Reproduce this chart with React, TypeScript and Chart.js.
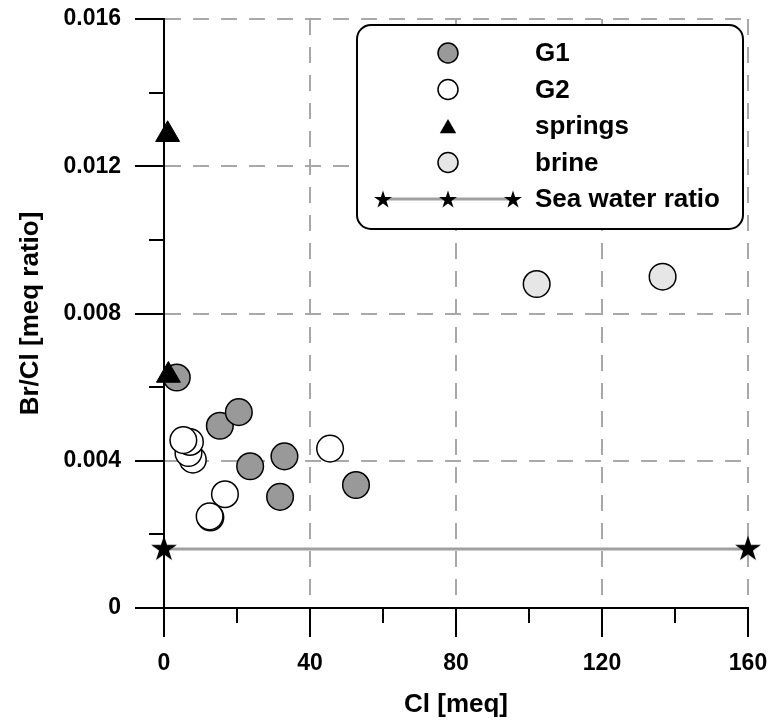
import React, { useEffect, useRef } from 'react';
import { Chart, registerables } from 'chart.js';

Chart.register(...registerables);

// ---- data ----
const g1Cl = [3.5, 15.3, 20.5, 23.6, 33.0, 31.8, 52.6];
const g1BrCl = [0.00626, 0.00495, 0.00532, 0.00385, 0.00412, 0.00302, 0.00334];

const g2Cl = [7.9, 6.7, 7.1, 5.3, 16.7, 12.7, 12.5, 45.5];
const g2BrCl = [0.00403, 0.00421, 0.00451, 0.00456, 0.00309, 0.00246, 0.00249, 0.00433];

const springsCl = [1.0, 1.2];
const springsBrCl = [0.01286, 0.00632];

const brineCl = [102.1, 136.6];
const brineBrCl = [0.0088, 0.009];

const seaCl = [0, 160];
const seaBrCl = [0.0016, 0.0016];

const xTicks = [0, 40, 80, 120, 160];
const xTickLabels = ['0', '40', '80', '120', '160'];
const xMinorTicks = [20, 60, 100, 140];
const yTicks = [0, 0.004, 0.008, 0.012, 0.016];
const yTickLabels = ['0', '0.004', '0.008', '0.012', '0.016'];
const yMinorTicks = [0.002, 0.006, 0.01, 0.014];

const legendLabels = ['G1', 'G2', 'springs', 'brine', 'Sea water ratio'];

const xTitle = 'Cl [meq]';
const yTitle = 'Br/Cl [meq ratio]';

// ---- styles ----
const FONT = "'Liberation Sans', Arial, Helvetica, sans-serif";
const G1_FILL = '#999999';
const G2_FILL = '#ffffff';
const BRINE_FILL = '#e6e6e6';
const GRID = '#a8a8a8';
const SEA_LINE = '#a0a0a0';

function starPath(ctx: CanvasRenderingContext2D, cx: number, cy: number, R: number) {
  const r = R * 0.382;
  ctx.beginPath();
  for (let i = 0; i < 10; i++) {
    const rad = i % 2 === 0 ? R : r;
    const a = -Math.PI / 2 + (i * Math.PI) / 5;
    const x = cx + rad * Math.cos(a);
    const y = cy + rad * Math.sin(a);
    if (i === 0) ctx.moveTo(x, y);
    else ctx.lineTo(x, y);
  }
  ctx.closePath();
}

function makeStar(R: number): HTMLCanvasElement {
  const c = document.createElement('canvas');
  const s = Math.ceil(R * 2 + 2);
  c.width = s;
  c.height = s;
  const ctx = c.getContext('2d')!;
  starPath(ctx, s / 2, s / 2, R);
  ctx.fillStyle = '#000';
  ctx.fill();
  return c;
}

const minorTicksPlugin = {
  id: 'minorTicks',
  beforeDatasetsDraw(chart: any) {
    const { ctx, scales } = chart;
    const xs = scales.x;
    const ys = scales.y;
    const len = 15;
    ctx.save();
    ctx.strokeStyle = '#000';
    ctx.lineWidth = 2;
    ctx.beginPath();
    xMinorTicks.forEach((v) => {
      const px = Math.round(xs.getPixelForValue(v));
      ctx.moveTo(px, ys.bottom);
      ctx.lineTo(px, ys.bottom + len);
    });
    yMinorTicks.forEach((v) => {
      const py = Math.round(ys.getPixelForValue(v));
      ctx.moveTo(xs.left - len, py);
      ctx.lineTo(xs.left, py);
    });
    ctx.stroke();
    ctx.restore();
  },
};

const boxLegendPlugin = {
  id: 'boxLegend',
  afterDraw(chart: any) {
    const { ctx } = chart;
    const bx = 357;
    const by = 25;
    const bw = 386;
    const bh = 204;
    ctx.save();
    ctx.beginPath();
    ctx.roundRect(bx, by, bw, bh, 14);
    ctx.fillStyle = '#fff';
    ctx.fill();
    ctx.lineWidth = 2;
    ctx.strokeStyle = '#000';
    ctx.stroke();

    const mx = 448;
    const tx = 535;
    const rowY = (i: number) => 53 + i * 36.5;

    const circle = (y: number, fill: string) => {
      ctx.beginPath();
      ctx.arc(mx, y, 10, 0, Math.PI * 2);
      ctx.fillStyle = fill;
      ctx.fill();
      ctx.lineWidth = 1.5;
      ctx.strokeStyle = '#000';
      ctx.stroke();
    };
    circle(rowY(0), G1_FILL);
    circle(rowY(1), G2_FILL);
    // triangle
    {
      const r = 9.5;
      const cy = rowY(2) + r * 0.25;
      ctx.beginPath();
      for (let k = 0; k < 3; k++) {
        const a = -Math.PI / 2 + (k * 2 * Math.PI) / 3;
        const x = mx + r * Math.cos(a);
        const y = cy + r * Math.sin(a);
        if (k === 0) ctx.moveTo(x, y);
        else ctx.lineTo(x, y);
      }
      ctx.closePath();
      ctx.fillStyle = '#000';
      ctx.fill();
    }
    circle(rowY(3), BRINE_FILL);
    // sea water line + stars
    {
      const y = rowY(4);
      ctx.beginPath();
      ctx.moveTo(383, y);
      ctx.lineTo(513, y);
      ctx.lineWidth = 3;
      ctx.strokeStyle = SEA_LINE;
      ctx.stroke();
      [383, 448, 513].forEach((sx) => {
        starPath(ctx, sx, y + 0.9, 9.4);
        ctx.fillStyle = '#000';
        ctx.fill();
      });
    }

    ctx.fillStyle = '#000';
    ctx.font = `bold 26px ${FONT}`;
    ctx.textAlign = 'left';
    ctx.textBaseline = 'middle';
    legendLabels.forEach((t, i) => ctx.fillText(t, tx, rowY(i) + 1));
    ctx.restore();
  },
};

const gridColor = (c: any) => (c.tick && c.tick.value === 0 ? 'rgba(0,0,0,0)' : GRID);

const zeroPad = (s: any) => {
  s.paddingTop = 0;
  s.paddingBottom = 0;
  s.paddingLeft = 0;
  s.paddingRight = 0;
};

export default function App() {
  const ref = useRef<HTMLCanvasElement>(null);

  useEffect(() => {
    const canvas = ref.current;
    if (!canvas) return;
    const star = makeStar(13.6);
    const pts = (xs: number[], ys: number[]) => xs.map((x, i) => ({ x, y: ys[i] }));

    const chart = new Chart(canvas, {
      type: 'scatter',
      data: {
        datasets: [
          {
            label: 'springs',
            data: pts(springsCl, springsBrCl),
            pointStyle: 'triangle',
            pointRadius: 13.8,
            pointBackgroundColor: '#000',
            pointBorderColor: '#000',
            pointBorderWidth: 1,
            clip: false,
          },
          {
            label: 'Sea water ratio',
            data: pts(seaCl, seaBrCl),
            showLine: true,
            borderColor: SEA_LINE,
            borderWidth: 3,
            pointStyle: star as any,
            pointRadius: 13.6,
            clip: false,
          },
          {
            label: 'G1',
            data: pts(g1Cl, g1BrCl),
            pointStyle: 'circle',
            pointRadius: 13.3,
            pointBackgroundColor: G1_FILL,
            pointBorderColor: '#000',
            pointBorderWidth: 1.5,
            clip: false,
          },
          {
            label: 'G2',
            data: pts(g2Cl, g2BrCl),
            pointStyle: 'circle',
            pointRadius: 13.3,
            pointBackgroundColor: G2_FILL,
            pointBorderColor: '#000',
            pointBorderWidth: 1.5,
            clip: false,
          },
          {
            label: 'brine',
            data: pts(brineCl, brineBrCl),
            pointStyle: 'circle',
            pointRadius: 13.3,
            pointBackgroundColor: BRINE_FILL,
            pointBorderColor: '#000',
            pointBorderWidth: 1.5,
            clip: false,
          },
        ] as any,
      },
      options: {
        responsive: false,
        animation: false,
        events: [],
        layout: { padding: { left: 0, top: 19, right: 20, bottom: 0 } },
        plugins: {
          legend: { display: false },
          tooltip: { enabled: false },
        },
        scales: {
          x: {
            type: 'linear',
            min: 0,
            max: 160,
            afterFit: (s: any) => {
              s.height = 112;
              zeroPad(s);
            },
            afterBuildTicks: (s: any) => {
              s.ticks = xTicks.map((v) => ({ value: v }));
            },
            ticks: {
              font: { family: FONT, size: 23, weight: 'bold' },
              color: '#000',
              padding: 13,
              maxRotation: 0,
              autoSkip: false,
              callback: (_v: any, i: number) => xTickLabels[i],
            },
            grid: {
              color: gridColor,
              lineWidth: 2,
              tickLength: 29,
              tickColor: '#000',
              tickWidth: 2,
              tickBorderDash: [],
            },
            border: { display: true, color: '#000', width: 2, dash: [16, 12] },
            title: {
              display: true,
              text: xTitle,
              color: '#000',
              font: { family: FONT, size: 26, weight: 'bold' },
              padding: { top: 0, bottom: 0 },
            },
          },
          y: {
            type: 'linear',
            min: 0,
            max: 0.016,
            afterFit: (s: any) => {
              s.width = 164;
              zeroPad(s);
            },
            afterBuildTicks: (s: any) => {
              s.ticks = yTicks.map((v) => ({ value: v }));
            },
            ticks: {
              font: { family: FONT, size: 23, weight: 'bold' },
              color: '#000',
              padding: 14,
              autoSkip: false,
              callback: (_v: any, i: number) => yTickLabels[i],
            },
            grid: {
              color: gridColor,
              lineWidth: 2,
              tickLength: 29,
              tickColor: '#000',
              tickWidth: 2,
              tickBorderDash: [],
            },
            border: { display: true, color: '#000', width: 2, dash: [16, 12] },
            title: {
              display: true,
              text: yTitle,
              color: '#000',
              font: { family: FONT, size: 26, weight: 'bold' },
              padding: { top: 15, bottom: 0 },
            },
          },
        },
      } as any,
      plugins: [minorTicksPlugin, boxLegendPlugin],
    });

    return () => chart.destroy();
  }, []);

  return (
    <div style={{ position: 'absolute', left: 0, top: 0, width: 768, height: 720, background: '#fff' }}>
      <canvas ref={ref} width={768} height={720} style={{ display: 'block' }} />
    </div>
  );
}
